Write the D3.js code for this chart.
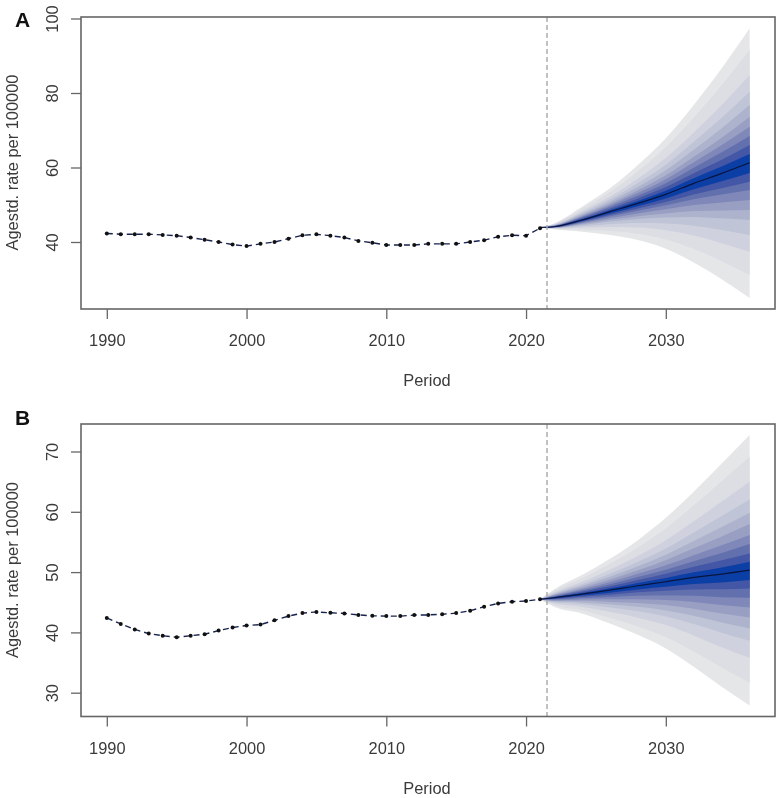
<!DOCTYPE html>
<html>
<head>
<meta charset="utf-8">
<script src="https://cdn.jsdelivr.net/npm/d3@7"></script>
<style>
  html, body { margin: 0; padding: 0; background: #fff; }
  svg { filter: blur(0.35px); }
  text { font-family: "Liberation Sans", Arial, sans-serif; fill: #3a3a3a; }
</style>
</head>
<body>
<div id="chart"></div>
<script>
// observed rates, one value per year from 1990 to 2021
var histYears = [1990,1991,1992,1993,1994,1995,1996,1997,1998,1999,2000,2001,2002,2003,2004,2005,2006,2007,2008,2009,2010,2011,2012,2013,2014,2015,2016,2017,2018,2019,2020,2021];
var histA = [42.3,42.1,42.1,42.1,41.9,41.7,41.2,40.6,40.0,39.3,38.9,39.5,40.0,40.9,41.8,42.05,41.7,41.2,40.3,39.8,39.2,39.2,39.2,39.5,39.5,39.5,40.0,40.5,41.4,41.8,41.7,43.7];
var histB = [42.4,41.4,40.5,39.8,39.45,39.2,39.45,39.7,40.3,40.8,41.15,41.3,42.0,42.7,43.2,43.4,43.25,43.15,42.9,42.75,42.7,42.7,42.87,42.9,43.0,43.2,43.6,44.25,44.8,45.1,45.2,45.5];

// forecast fan: each row goes top edge -> mean (index 10) -> bottom edge
var fanYears = [2021,2022,2024,2026,2028,2030,2032,2034,2036];

var fanA2021 = [43.9,43.9,43.9,43.9,43.9,43.9,43.9,43.9,43.9,43.9,43.9,43.9,43.9,43.9,43.9,43.9,43.9,43.9,43.9,43.9,43.9];
var fanA2022 = [45.0,44.86,44.69,44.58,44.49,44.41,44.34,44.28,44.22,44.16,44.1,44.05,44.0,43.96,43.91,43.86,43.8,43.73,43.64,43.52,43.4];
var fanA2024 = [49.48,48.91,48.23,47.8,47.44,47.12,46.87,46.62,46.37,46.13,45.9,45.67,45.46,45.27,45.04,44.8,44.57,44.23,43.83,43.3,42.77];
var fanA2026 = [54.4,53.4,52.21,51.46,50.83,50.27,49.83,49.39,48.95,48.55,48.14,47.67,47.26,46.89,46.42,45.95,45.48,44.79,44.01,42.94,41.88];
var fanA2028 = [60.66,59.01,57.06,55.82,54.79,53.87,53.15,52.43,51.71,51.04,50.37,49.63,48.99,48.4,47.66,46.93,46.19,45.11,43.88,42.2,40.53];
var fanA2030 = [67.82,65.42,62.56,60.76,59.25,57.9,56.85,55.8,54.74,53.77,52.79,51.69,50.75,49.87,48.77,47.68,46.58,44.98,43.15,40.67,38.19];
var fanA2032 = [76.78,73.42,69.42,66.9,64.79,62.9,61.43,59.96,58.48,57.12,55.75,54.16,52.77,51.5,49.91,48.31,46.72,44.38,41.72,38.11,34.5];
var fanA2034 = [86.62,82.11,76.75,73.37,70.55,68.01,66.04,64.07,62.09,60.26,58.43,56.3,54.45,52.75,50.62,48.49,46.36,43.24,39.69,34.86,30.03];
var fanA2036 = [97.36,91.54,84.83,80.36,76.78,73.64,70.96,68.45,66.04,63.62,61.29,58.52,56.19,53.96,51.27,48.59,45.9,41.87,37.4,31.14,24.96];

var fanB2021 = [45.5,45.5,45.5,45.5,45.5,45.5,45.5,45.5,45.5,45.5,45.5,45.5,45.5,45.5,45.5,45.5,45.5,45.5,45.5,45.5,45.5];
var fanB2022 = [47.13,46.91,46.65,46.47,46.34,46.22,46.11,46.01,45.92,45.83,45.75,45.64,45.55,45.44,45.34,45.23,45.11,44.98,44.78,44.51,44.26];
var fanB2024 = [49.5,49.0,48.41,48.0,47.69,47.42,47.17,46.95,46.74,46.54,46.35,46.11,45.92,45.69,45.47,45.23,44.97,44.68,44.26,43.69,43.14];
var fanB2026 = [52.2,51.37,50.41,49.73,49.21,48.77,48.35,47.99,47.65,47.31,47.0,46.59,46.25,45.87,45.48,45.06,44.62,44.12,43.41,42.41,41.47];
var fanB2028 = [55.3,54.09,52.69,51.71,50.95,50.31,49.71,49.18,48.69,48.19,47.74,47.13,46.64,46.07,45.5,44.89,44.24,43.51,42.45,40.98,39.6];
var fanB2030 = [59.0,57.22,55.28,53.91,52.86,51.97,51.13,50.4,49.71,49.03,48.4,47.57,46.91,46.13,45.36,44.53,43.64,42.65,41.21,39.22,37.34];
var fanB2032 = [63.33,61.06,58.43,56.58,55.16,53.95,52.81,51.82,50.9,49.97,49.12,48.01,47.12,46.08,45.04,43.93,42.75,41.41,39.49,36.82,34.3];
var fanB2034 = [68.02,65.08,61.69,59.3,57.47,55.91,54.44,53.16,51.96,50.77,49.67,48.27,47.15,45.84,44.53,43.13,41.64,39.96,37.53,34.17,30.99];
var fanB2036 = [72.72,69.13,65.0,62.05,59.84,57.96,56.14,54.65,53.1,51.72,50.33,48.68,47.3,45.75,44.14,42.48,40.66,38.61,35.74,31.65,27.89];

var xTicks = [1990,2000,2010,2020,2030];
var yTicksA = [40,60,80,100];
var yTicksB = [30,40,50,60,70];
var cutYear = 2021.5;

// outer band first, the inner ones get painted on top
var bandColors = ["#e5e6e8","#dcdee3","#cfd2de","#bfc4d6","#adb3cd","#989fc3","#7f88b9","#6370ae","#4456a6","#0c3fa6"];

var width = 780, height = 798;
var svg = d3.select("#chart").append("svg")
    .attr("width", width)
    .attr("height", height)
    .style("display", "block");

var x = d3.scaleLinear().domain([1990, 2030]).range([106.8, 665.8]);

function drawPanel(cfg) {
    var g = svg.append("g");
    var y = d3.scaleLinear().domain(cfg.yDomain).range(cfg.yRange);

    // fan bands, nested
    bandColors.forEach(function (c, i) {
        var area = d3.area()
            .x(function (d, j) { return x(fanYears[j]); })
            .y0(function (d) { return y(d[20 - i]); })
            .y1(function (d) { return y(d[i]); })
            .curve(d3.curveMonotoneX);
        g.append("path")
            .attr("d", area(cfg.fan))
            .attr("fill", c);
    });

    // forecast mean
    var meanLine = d3.line()
        .x(function (d, j) { return x(fanYears[j]); })
        .y(function (d) { return y(d[10]); })
        .curve(d3.curveMonotoneX);
    g.append("path")
        .attr("d", meanLine(cfg.fan))
        .attr("fill", "none")
        .attr("stroke", "#0a1440")
        .attr("stroke-width", 1.2);

    // observed series
    var histLine = d3.line()
        .x(function (d, j) { return x(histYears[j]); })
        .y(function (d) { return y(d); });
    g.append("path")
        .attr("d", histLine(cfg.hist))
        .attr("fill", "none")
        .attr("stroke", "#16224f")
        .attr("stroke-width", 1.4)
        .attr("stroke-dasharray", "6,4");
    g.selectAll("circle")
        .data(cfg.hist)
        .enter()
        .append("circle")
        .attr("cx", function (d, j) { return x(histYears[j]); })
        .attr("cy", function (d) { return y(d); })
        .attr("r", 2)
        .attr("fill", "#111");

    // forecast origin
    g.append("line")
        .attr("x1", x(cutYear))
        .attr("x2", x(cutYear))
        .attr("y1", cfg.top)
        .attr("y2", cfg.bottom)
        .attr("stroke", "#a8a8a8")
        .attr("stroke-width", 1.4)
        .attr("stroke-dasharray", "5,3");

    // box
    g.append("rect")
        .attr("x", 81)
        .attr("y", cfg.top)
        .attr("width", 694)
        .attr("height", cfg.bottom - cfg.top)
        .attr("fill", "none")
        .attr("stroke", "#666")
        .attr("stroke-width", 1.6);

    var xAxis = d3.axisBottom(x).tickValues(xTicks).tickFormat(d3.format("d")).tickSize(10);
    var gx = g.append("g")
        .attr("transform", "translate(0," + cfg.bottom + ")")
        .call(xAxis);
    gx.select(".domain").remove();
    gx.selectAll("line").attr("stroke", "#666").attr("stroke-width", 1.3);
    gx.selectAll("text")
        .attr("y", 37)
        .attr("dy", 0)
        .attr("font-size", "16.4px")
        .attr("font-family", "'Liberation Sans', Arial, sans-serif");

    var yAxis = d3.axisLeft(y).tickValues(cfg.yTicks).tickSize(10);
    var gy = g.append("g")
        .attr("transform", "translate(81,0)")
        .call(yAxis);
    gy.select(".domain").remove();
    gy.selectAll("line").attr("stroke", "#666").attr("stroke-width", 1.3);
    gy.selectAll("text")
        .attr("transform", "rotate(-90)")
        .attr("x", 0)
        .attr("y", -23)
        .attr("dy", 0)
        .attr("text-anchor", "middle")
        .attr("font-size", "16.4px")
        .attr("font-family", "'Liberation Sans', Arial, sans-serif");

    g.append("text")
        .attr("x", 427)
        .attr("y", cfg.bottom + 77)
        .attr("text-anchor", "middle")
        .attr("font-size", "16.4px")
        .text("Period");

    g.append("text")
        .attr("transform", "translate(18," + cfg.titleY + ") rotate(-90)")
        .attr("text-anchor", "middle")
        .attr("font-size", "16.4px")
        .text("Agestd. rate per 100000");

    g.append("text")
        .attr("x", 15)
        .attr("y", cfg.letterY)
        .attr("font-size", "21px")
        .attr("font-weight", "bold")
        .style("fill", "#111")
        .text(cfg.letter);
}

drawPanel({
    letter: "A", letterY: 27,
    top: 17, bottom: 309, titleY: 162.5,
    yDomain: [40, 100], yRange: [242, 18.5], yTicks: yTicksA,
    hist: histA,
    fan: [fanA2021, fanA2022, fanA2024, fanA2026, fanA2028, fanA2030, fanA2032, fanA2034, fanA2036]
});

drawPanel({
    letter: "B", letterY: 425,
    top: 424, bottom: 716.5, titleY: 570,
    yDomain: [30, 70], yRange: [692.7, 451.5], yTicks: yTicksB,
    hist: histB,
    fan: [fanB2021, fanB2022, fanB2024, fanB2026, fanB2028, fanB2030, fanB2032, fanB2034, fanB2036]
});
</script>
</body>
</html>
